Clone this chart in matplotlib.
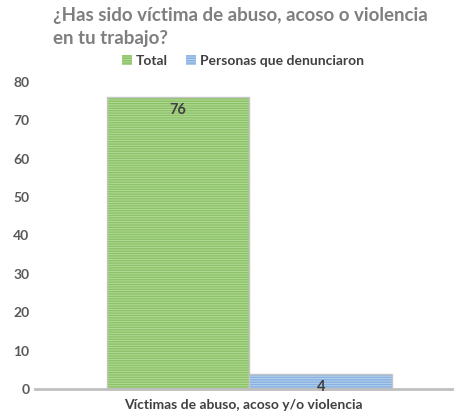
import matplotlib.pyplot as plt

# ---- Data
title = "¿Has sido víctima de abuso, acoso o violencia\nen tu trabajo?"
category = "Víctimas de abuso, acoso y/o violencia"
series_names = ["Total", "Personas que denunciaron"]
series_values = [76, 4]
yticks = [0, 10, 20, 30, 40, 50, 60, 70, 80]

fills = ["#b4db98", "#b9d3ef"]
hatch_cols = ["#8cc267", "#86b0e0"]
edge_cols = ["#c5c5c5", "#c5c5c5"]

plt.rcParams["font.family"] = ["Lato", "DejaVu Sans"]
plt.rcParams["hatch.linewidth"] = 1.0

fig = plt.figure(figsize=(4.54, 4.13), dpi=100)
ax = fig.add_axes([35 / 454, (413 - 389) / 413, 417 / 454, 307 / 413])

width = 0.342
offsets = [-width / 2, width / 2]
handles = []
for name, val, off, fc, hc, ec in zip(series_names, series_values, offsets,
                                       fills, hatch_cols, edge_cols):
    b = ax.bar(off, val, width, color=fc, edgecolor=hc, hatch="-------",
               linewidth=0, label=name)
    ax.bar(off, val, width, color="none", edgecolor=ec, linewidth=1.0)
    handles.append(b)
    ax.text(off, val - 1.6, str(val), ha="center", va="top",
            fontsize=10.5, fontweight="bold", color="#404040")

ax.set_xlim(-0.514, 0.486)
ax.set_ylim(0, 80)
ax.set_yticks(yticks)
ax.set_yticklabels([str(t) for t in yticks], fontsize=10,
                   fontweight="bold", color="#595959")
ax.tick_params(axis="y", length=0, pad=4)
ax.set_xticks([])
for s in ["top", "right", "left"]:
    ax.spines[s].set_visible(False)
ax.spines["bottom"].set_color("#bfbfbf")
ax.spines["bottom"].set_linewidth(2)
ax.set_xlabel(category, fontsize=10, fontweight="bold", color="#404040",
              labelpad=7)

fig.text(53 / 454, 1 - 7 / 413, title, ha="left", va="top", fontsize=13.5,
         fontweight="bold", color="#7f7f7f", linespacing=1.45)

leg = fig.legend(handles=handles, labels=series_names, loc="center",
                 bbox_to_anchor=(243 / 454, 1 - 61 / 413), ncol=2,
                 frameon=False, fontsize=10, handlelength=0.7,
                 handleheight=0.7, handletextpad=0.3, columnspacing=1.3)
for t in leg.get_texts():
    t.set_fontweight("bold")
    t.set_color("#404040")

fig.savefig("out.png", dpi=100)
